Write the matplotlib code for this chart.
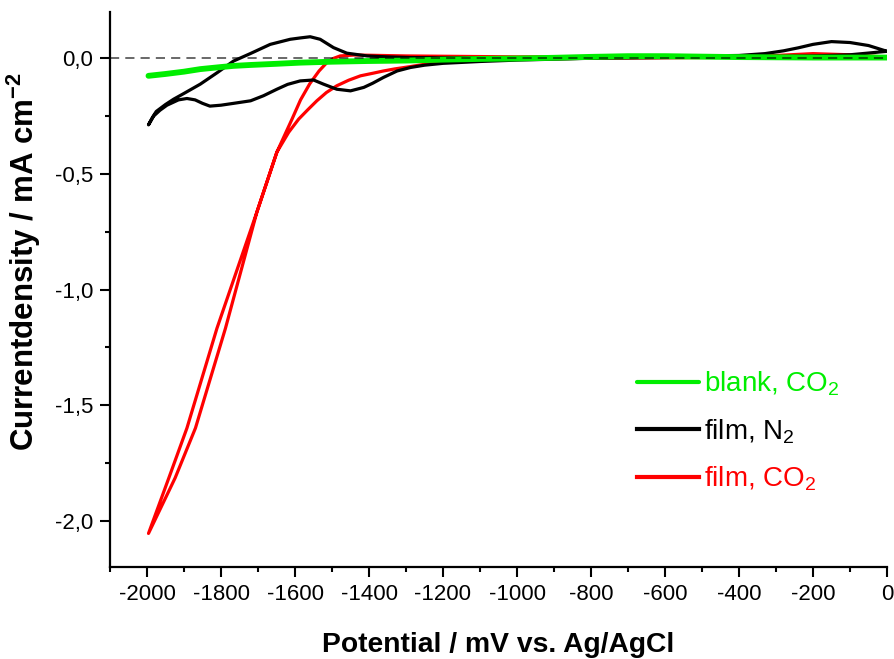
import matplotlib
matplotlib.use("Agg")
import matplotlib.pyplot as plt
from matplotlib.ticker import MultipleLocator, FuncFormatter

plt.rcParams['font.family'] = ['Liberation Sans', 'DejaVu Sans']
plt.rcParams['mathtext.fontset'] = 'custom'
plt.rcParams['mathtext.rm'] = 'Liberation Sans'
plt.rcParams['mathtext.bf'] = 'Liberation Sans:bold'
plt.rcParams['axes.unicode_minus'] = False

# blank, CO2 (both sweeps overlap)
blank_x = [-1996, -1950, -1900, -1856, -1800, -1766, -1720, -1650, -1586, -1500, -1405,
           -1300, -1200, -1100, -1000, -900, -800, -700, -600, -500, -400, -300, -200, -100, 0]
blank_y = [-0.076, -0.068, -0.058, -0.047, -0.038, -0.033, -0.029, -0.024, -0.019, -0.015, -0.012,
           -0.010, -0.006, -0.003, -0.001, 0.002, 0.006, 0.009, 0.009, 0.007, 0.005, 0.004, 0.003, 0.003, 0.003]

# film, N2 : cathodic sweep (0 -> -2000) then anodic sweep (-2000 -> 0)
n2_x = [0, -100, -200, -300, -400, -600, -800, -1000, -1100, -1200, -1250, -1288, -1324, -1361,
        -1390, -1414, -1450, -1487, -1523, -1550, -1586, -1620, -1649, -1685, -1720, -1766, -1800,
        -1830, -1850, -1870, -1892, -1915, -1946, -1965, -1982, -1996,
        -1985, -1975, -1950, -1928, -1900, -1856, -1810, -1766, -1721, -1667, -1613, -1585, -1559,
        -1532, -1496, -1460, -1405, -1350, -1288, -1200, -1000, -800, -600, -400, -330, -280, -240,
        -200, -150, -100, -50, 0]
n2_y = [0.030, 0.015, 0.010, 0.008, 0.005, 0.003, 0.000, -0.008, -0.014, -0.022, -0.030, -0.040,
        -0.055, -0.083, -0.108, -0.126, -0.141, -0.134, -0.112, -0.094, -0.098, -0.113, -0.134,
        -0.162, -0.184, -0.195, -0.203, -0.207, -0.195, -0.180, -0.174, -0.180, -0.203, -0.225,
        -0.250, -0.288,
        -0.255, -0.230, -0.200, -0.177, -0.152, -0.112, -0.062, -0.012, 0.020, 0.060, 0.082, 0.088,
        0.093, 0.082, 0.046, 0.022, 0.010, 0.006, 0.003, 0.002, 0.002, 0.004, 0.008, 0.012, 0.020,
        0.032, 0.045, 0.060, 0.072, 0.068, 0.055, 0.030]

# film, CO2 : cathodic sweep then anodic sweep
co2_x = [0, -100, -200, -300, -400, -600, -800, -1000, -1100, -1200, -1250, -1288, -1330, -1361,
         -1390, -1423, -1455, -1487, -1515, -1541, -1565, -1590, -1617, -1649, -1703, -1788,
         -1869, -1924, -1996,
         -1941, -1892, -1811, -1703, -1649, -1608, -1585, -1560, -1535, -1514,
         -1495, -1478, -1440, -1400, -1300, -1000, -600, -300, -200, -100, 0]
co2_y = [0.005, 0.008, 0.012, 0.008, 0.004, 0.002, 0.000, -0.004, -0.009, -0.018, -0.026, -0.036,
         -0.046, -0.055, -0.065, -0.076, -0.095, -0.119, -0.148, -0.184, -0.222, -0.263, -0.320,
         -0.406, -0.665, -1.168, -1.599, -1.815, -2.055,
         -1.815, -1.599, -1.168, -0.665, -0.406, -0.263, -0.180, -0.110,
         -0.055, -0.019, 0.000, 0.010, 0.014, 0.013, 0.010, 0.006, 0.008, 0.012, 0.020, 0.015, 0.005]

fig = plt.figure(figsize=(8.95, 6.59), dpi=100)
ax = fig.add_axes([110 / 895, 1 - 567 / 659, 777 / 895, 555 / 659])

ax.plot(co2_x, co2_y, color='#ff0000', lw=2.3, label='film, CO$_2$', zorder=3)
ax.plot(n2_x, n2_y, color='black', lw=2.3, label='film, N$_2$', zorder=4)
ax.plot(blank_x, blank_y, color='#00ee00', lw=4.2, label='blank, CO$_2$', zorder=5,
        solid_capstyle='round')
ax.axhline(0, color='black', lw=1.1, ls=(0, (6, 4)), alpha=0.75, zorder=6)

ax.set_xlim(-2100, 0)
ax.set_ylim(-2.2, 0.2)
ax.xaxis.set_major_locator(MultipleLocator(200))
ax.xaxis.set_minor_locator(MultipleLocator(100))
ax.yaxis.set_major_locator(MultipleLocator(0.5))
ax.yaxis.set_minor_locator(MultipleLocator(0.25))
ax.xaxis.set_major_formatter(FuncFormatter(lambda v, p: f"{v:.0f}"))
ax.yaxis.set_major_formatter(FuncFormatter(lambda v, p: f"{v:.1f}".replace('.', ',')))

for s in ['top', 'right']:
    ax.spines[s].set_visible(False)
for s in ['left', 'bottom']:
    ax.spines[s].set_linewidth(1.6)
ax.tick_params(which='major', direction='out', length=7, width=1.5, labelsize=16, pad=5)
ax.tick_params(which='minor', direction='out', length=3.5, width=1.5)

ax.set_xlabel('Potential / mV vs. Ag/AgCl', fontsize=20.3, fontweight='bold', labelpad=19.5)
ax.set_ylabel(r'Currentdensity / mA cm$^{\mathbf{-2}}$', fontsize=22.5, fontweight='bold')
ax.yaxis.set_label_coords(-0.086, 0.55)

handles, labels = ax.get_legend_handles_labels()
order = [2, 1, 0]
leg = ax.legend([handles[i] for i in order], [labels[i] for i in order],
                loc='upper left', bbox_to_anchor=(0.678, 0.356), frameon=False,
                fontsize=20, handlelength=2.23, handletextpad=0.2, borderpad=0,
                borderaxespad=0, labelspacing=0.67)
for line, text in zip(leg.get_lines(), leg.get_texts()):
    line.set_linewidth(3)
    text.set_color(line.get_color())

fig.savefig('out.png', dpi=100)
